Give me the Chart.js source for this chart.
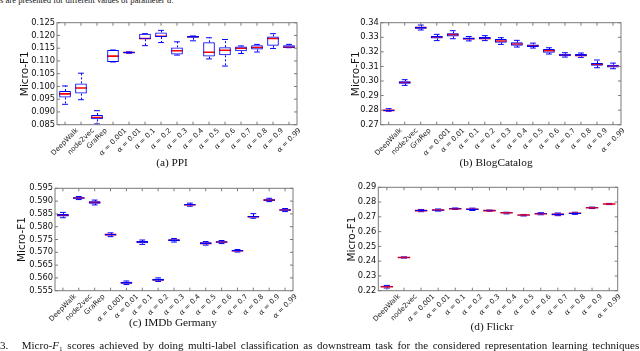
<!DOCTYPE html>
<html>
<head>
<meta charset="utf-8">
<script src="https://cdn.jsdelivr.net/npm/chart.js@4.4.0/dist/chart.umd.min.js"></script>
<style>
  body { margin: 0; width: 640px; height: 351px; overflow: hidden; background: #fff; position: relative; font-family: "Liberation Serif", serif; color: #111; }
  canvas { position: absolute; }
  .cap { position: absolute; font-size: 11.3px; transform: translate(-50%, -50%); white-space: nowrap; }
  #topText { position: absolute; left: 0; top: -4px; font-size: 8.6px; line-height: 8.6px; white-space: nowrap; }
  #bottomText { position: absolute; left: 0; top: 340px; font-size: 11px; line-height: 11px; white-space: nowrap; }
</style>
</head>
<body>
<div id="topText">s are presented for different values of parameter <i>α</i>.</div>

<canvas id="ppi" width="320" height="170" style="left:0;top:0"></canvas>
<canvas id="blog" width="320" height="170" style="left:320px;top:0"></canvas>
<canvas id="imdb" width="320" height="165" style="left:0;top:170px"></canvas>
<canvas id="flickr" width="320" height="165" style="left:320px;top:170px"></canvas>

<div class="cap" style="left:172px;top:162px">(a) PPI</div>
<div class="cap" style="left:496px;top:162px">(b) BlogCatalog</div>
<div class="cap" style="left:173px;top:322px">(c) IMDb Germany</div>
<div class="cap" style="left:492px;top:326px">(d) Flickr</div>

<div id="bottomText">3.&nbsp;&nbsp; Micro-<i>F</i>₁ scores achieved by doing multi-label classification as downstream task for the considered representation learning techniques.</div>

<script>
// categories
const methodCats = ['DeepWalk', 'node2vec', 'GraRep', 'α = 0.001', 'α = 0.01', 'α = 0.1', 'α = 0.2', 'α = 0.3',
  'α = 0.4', 'α = 0.5', 'α = 0.6', 'α = 0.7', 'α = 0.8', 'α = 0.9', 'α = 0.99'];
const flickrCats = ['DeepWalk', 'node2vec', 'α = 0.001', 'α = 0.01', 'α = 0.1', 'α = 0.2', 'α = 0.3',
  'α = 0.4', 'α = 0.5', 'α = 0.6', 'α = 0.7', 'α = 0.8', 'α = 0.9', 'α = 0.99'];

// (a) PPI
const ppiMin = [0.0930, 0.0948, 0.0853, 0.1096, 0.1130, 0.1160, 0.1172, 0.1123, 0.1179, 0.1108, 0.1080, 0.1129, 0.1135, 0.1149, 0.1152];
const ppiQ1  = [0.0957, 0.0972, 0.0871, 0.1096, 0.1130, 0.1185, 0.1194, 0.1125, 0.1191, 0.1117, 0.1122, 0.1138, 0.1145, 0.1160, 0.1152];
const ppiMed = [0.0971, 0.0994, 0.0878, 0.1119, 0.1133, 0.1188, 0.1197, 0.1140, 0.1195, 0.1134, 0.1142, 0.1150, 0.1153, 0.1188, 0.1154];
const ppiQ3  = [0.0982, 0.1012, 0.0888, 0.1143, 0.1136, 0.1207, 0.1212, 0.1153, 0.1198, 0.1173, 0.1154, 0.1157, 0.1162, 0.1196, 0.1162];
const ppiMax = [0.1002, 0.1052, 0.0905, 0.1143, 0.1136, 0.1207, 0.1220, 0.1175, 0.1198, 0.1191, 0.1184, 0.1159, 0.1165, 0.1207, 0.1165];
const ppiTicks = [0.085, 0.090, 0.095, 0.100, 0.105, 0.110, 0.115, 0.120, 0.125];

// (b) BlogCatalog
const blogMin = [0.2792, 0.2970, 0.3350, 0.3277, 0.3290, 0.3275, 0.3277, 0.3251, 0.3233, 0.3226, 0.3185, 0.3164, 0.3162, 0.3091, 0.3084];
const blogQ1  = [0.2794, 0.2981, 0.3359, 0.3292, 0.3306, 0.3285, 0.3286, 0.3263, 0.3242, 0.3233, 0.3194, 0.3169, 0.3169, 0.3105, 0.3093];
const blogMed = [0.2798, 0.2990, 0.3366, 0.3302, 0.3318, 0.3290, 0.3292, 0.3274, 0.3254, 0.3242, 0.3208, 0.3178, 0.3176, 0.3116, 0.3103];
const blogQ3  = [0.2803, 0.2999, 0.3373, 0.3308, 0.3327, 0.3298, 0.3302, 0.3288, 0.3265, 0.3251, 0.3219, 0.3187, 0.3185, 0.3124, 0.3112];
const blogMax = [0.2810, 0.3009, 0.3384, 0.3320, 0.3345, 0.3305, 0.3311, 0.3297, 0.3279, 0.3260, 0.3228, 0.3194, 0.3192, 0.3144, 0.3123];
const blogTicks = [0.27, 0.28, 0.29, 0.30, 0.31, 0.32, 0.33, 0.34];

// (c) IMDb Germany
const imdbMin = [0.5835, 0.5906, 0.5885, 0.5761, 0.5574, 0.5731, 0.5586, 0.5740, 0.5880, 0.5728, 0.5734, 0.5701, 0.5833, 0.5898, 0.5859];
const imdbQ1  = [0.5840, 0.5909, 0.5890, 0.5766, 0.5577, 0.5735, 0.5589, 0.5743, 0.5883, 0.5731, 0.5737, 0.5703, 0.5836, 0.5901, 0.5862];
const imdbMed = [0.5845, 0.5912, 0.5895, 0.5769, 0.5581, 0.5740, 0.5593, 0.5747, 0.5886, 0.5735, 0.5740, 0.5706, 0.5839, 0.5904, 0.5865];
const imdbQ3  = [0.5850, 0.5915, 0.5899, 0.5772, 0.5585, 0.5744, 0.5597, 0.5751, 0.5889, 0.5739, 0.5743, 0.5709, 0.5842, 0.5907, 0.5868];
const imdbMax = [0.5856, 0.5918, 0.5904, 0.5776, 0.5588, 0.5748, 0.5600, 0.5754, 0.5892, 0.5742, 0.5746, 0.5711, 0.5851, 0.5911, 0.5871];
const imdbTicks = [0.555, 0.560, 0.565, 0.570, 0.575, 0.580, 0.585, 0.590, 0.595];

// (d) Flickr
const flickrMin = [0.2218, 0.2421, 0.2735, 0.2739, 0.2750, 0.2743, 0.2738, 0.2720, 0.2706, 0.2714, 0.2708, 0.2717, 0.2756, 0.2783];
const flickrQ1  = [0.2225, 0.2423, 0.2738, 0.2742, 0.2752, 0.2746, 0.2740, 0.2724, 0.2709, 0.2717, 0.2712, 0.2720, 0.2759, 0.2785];
const flickrMed = [0.2227, 0.2425, 0.2742, 0.2746, 0.2755, 0.2751, 0.2742, 0.2728, 0.2712, 0.2721, 0.2717, 0.2724, 0.2762, 0.2787];
const flickrQ3  = [0.2229, 0.2427, 0.2747, 0.2750, 0.2758, 0.2756, 0.2744, 0.2730, 0.2714, 0.2725, 0.2722, 0.2728, 0.2764, 0.2789];
const flickrMax = [0.2236, 0.2429, 0.2750, 0.2753, 0.2760, 0.2759, 0.2746, 0.2731, 0.2716, 0.2728, 0.2726, 0.2731, 0.2766, 0.2791];
const flickrTicks = [0.22, 0.23, 0.24, 0.25, 0.26, 0.27, 0.28, 0.29];

const BLUE = '#0000ff';
const RED = '#ff0000';
const FRAME = '#7a7a7a';

// whiskers under the boxes, frame / inward ticks / rotated labels on top
const boxDeco = {
  id: 'boxdeco',
  beforeDatasetsDraw(chart) {
    const o = chart.options.plugins.boxdeco;
    const { ctx, scales: { x, y } } = chart;
    ctx.save();
    ctx.strokeStyle = BLUE;
    ctx.lineWidth = 1;
    ctx.setLineDash([2, 2]);
    o.q1.forEach((q, i) => {
      const px = Math.round(x.getPixelForValue(i)) + 0.5;
      ctx.beginPath();
      ctx.moveTo(px, y.getPixelForValue(o.q3[i]));
      ctx.lineTo(px, y.getPixelForValue(o.max[i]));
      ctx.moveTo(px, y.getPixelForValue(q));
      ctx.lineTo(px, y.getPixelForValue(o.min[i]));
      ctx.stroke();
    });
    ctx.restore();
  },
  afterDraw(chart) {
    const { ctx, chartArea: a, scales: { x, y } } = chart;
    ctx.save();
    ctx.strokeStyle = FRAME;
    ctx.lineWidth = 1;
    ctx.strokeRect(a.left, a.top, a.right - a.left, a.bottom - a.top);
    ctx.beginPath();
    x.ticks.forEach((t, i) => {
      const px = x.getPixelForValue(i);
      ctx.moveTo(px, a.bottom); ctx.lineTo(px, a.bottom - 3);
      ctx.moveTo(px, a.top); ctx.lineTo(px, a.top + 3);
    });
    y.ticks.forEach(t => {
      const py = y.getPixelForValue(t.value);
      ctx.moveTo(a.left, py); ctx.lineTo(a.left + 3, py);
      ctx.moveTo(a.right, py); ctx.lineTo(a.right - 3, py);
    });
    ctx.stroke();

    // x labels, rotated 45deg and centred on the tick (matplotlib style)
    const sans = '7px "DejaVu Sans"';
    const serif = 'italic 7.5px "DejaVu Serif"';
    ctx.fillStyle = '#222';
    ctx.textBaseline = 'middle';
    ctx.textAlign = 'left';
    x.getLabels().forEach((lab, i) => {
      const isAlpha = lab.startsWith('α');
      const head = isAlpha ? 'α' : '';
      const rest = isAlpha ? lab.slice(1) : lab;
      ctx.font = serif;
      const wh = head ? ctx.measureText(head).width : 0;
      ctx.font = sans;
      const wr = ctx.measureText(rest).width;
      const w = wh + wr;
      const ext = (w + 5) * Math.SQRT1_2;
      const px = x.getPixelForValue(i);
      ctx.save();
      ctx.translate(px, a.bottom + 3 + ext / 2);
      ctx.rotate(-Math.PI / 4);
      if (head) { ctx.font = serif; ctx.fillText(head, -w / 2, 0); }
      ctx.font = sans;
      ctx.fillText(rest, -w / 2 + wh, 0);
      ctx.restore();
    });
    ctx.restore();
  }
};

function boxChart(id, cats, mins, q1s, meds, q3s, maxs, ticks, decimals, geom) {
  const barWidth = ctx => {
    const bar = ctx.chart.getDatasetMeta(0).data[ctx.dataIndex];
    return bar ? bar.width / 2 : 5;
  };
  return new Chart(document.getElementById(id), {
    data: {
      labels: cats,
      datasets: [
        {
          type: 'bar',
          data: q1s.map((q, i) => [q, q3s[i]]),
          backgroundColor: 'rgba(0,0,0,0)',
          borderColor: BLUE,
          borderWidth: 1,
          borderSkipped: false,
          barPercentage: 0.73,
          categoryPercentage: 1
        },
        {
          type: 'line', data: meds, showLine: false, pointStyle: 'line',
          pointRadius: barWidth, borderColor: RED, pointBorderWidth: 1.6
        },
        {
          type: 'line', data: mins, showLine: false, pointStyle: 'line',
          pointRadius: ctx => barWidth(ctx) / 2, borderColor: BLUE, pointBorderWidth: 1
        },
        {
          type: 'line', data: maxs, showLine: false, pointStyle: 'line',
          pointRadius: ctx => barWidth(ctx) / 2, borderColor: BLUE, pointBorderWidth: 1
        }
      ]
    },
    options: {
      responsive: false,
      animation: false,
      layout: { padding: { left: geom.padLeft, top: geom.padTop, right: geom.padRight, bottom: 0 } },
      plugins: {
        legend: { display: false },
        tooltip: { enabled: false },
        boxdeco: {}
      },
      scales: {
        x: {
          type: 'category',
          offset: true,
          grid: { display: false, drawTicks: false },
          border: { display: false },
          ticks: { display: false },
          afterFit: s => { s.height = geom.xHeight; }
        },
        y: {
          min: ticks[0],
          max: ticks[ticks.length - 1],
          grid: { display: false, drawTicks: false },
          border: { display: false },
          afterBuildTicks: s => { s.ticks = ticks.map(v => ({ value: v })); },
          ticks: {
            autoSkip: false,
            padding: 2,
            color: '#111',
            font: { family: 'DejaVu Sans', size: 8.3 },
            callback: v => Number(v).toFixed(decimals)
          },
          title: {
            display: true,
            text: 'Micro-F1',
            color: '#111',
            font: { family: 'DejaVu Sans', size: 10.5 },
            padding: { top: 0, bottom: 0 }
          },
          afterFit: s => { s.width = geom.yWidth; }
        }
      }
    },
    plugins: [{
      id: 'boxdecoInit',
      beforeInit(chart) {
        chart.options.plugins.boxdeco = { min: mins, q1: q1s, q3: q3s, max: maxs };
      }
    }, boxDeco]
  });
}

boxChart('ppi', methodCats, ppiMin, ppiQ1, ppiMed, ppiQ3, ppiMax, ppiTicks, 3,
  { padLeft: 19, padTop: 22.7, padRight: 23, yWidth: 38, xHeight: 45.3 });
boxChart('blog', methodCats, blogMin, blogQ1, blogMed, blogQ3, blogMax, blogTicks, 2,
  { padLeft: 30, padTop: 22.7, padRight: 19, yWidth: 30.7, xHeight: 45.3 });
boxChart('imdb', methodCats, imdbMin, imdbQ1, imdbMed, imdbQ3, imdbMax, imdbTicks, 3,
  { padLeft: 16, padTop: 18.3, padRight: 27, yWidth: 39, xHeight: 44.3 });
boxChart('flickr', flickrCats, flickrMin, flickrQ1, flickrMed, flickrQ3, flickrMax, flickrTicks, 2,
  { padLeft: 26, padTop: 17.3, padRight: 22.3, yWidth: 32.3, xHeight: 44.3 });

// stretch the running caption line to the page width, like the justified original
const bt = document.getElementById('bottomText');
const spaces = (bt.textContent.match(/[ \u00a0]/g) || []).length;
const extra = (642 - bt.getBoundingClientRect().width) / spaces;
if (extra > 0) bt.style.wordSpacing = extra + 'px';
</script>
</body>
</html>
